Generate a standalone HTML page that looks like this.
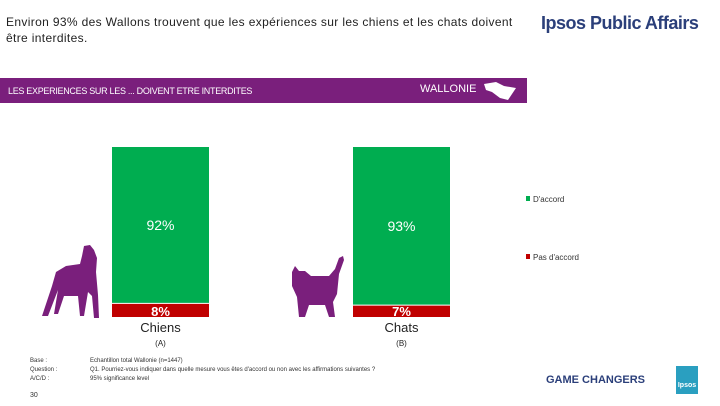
<!DOCTYPE html>
<html><head><meta charset="utf-8"><style>
body{margin:0;width:720px;height:405px;background:#fff;font-family:"Liberation Sans",sans-serif;position:relative;overflow:hidden}
.a{position:absolute}
</style></head><body>
<div class="a" style="left:6px;top:14px;width:530px;font-size:12px;line-height:16px;color:#222;letter-spacing:0.35px;white-space:nowrap">Environ 93% des Wallons trouvent que les expériences sur les chiens et les chats doivent <br>être interdites.</div>
<div class="a" style="left:541px;top:13px;font-size:18px;font-weight:bold;color:#2b3f7a;letter-spacing:-0.5px">Ipsos Public Affairs</div>
<div class="a" style="left:0;top:78px;width:527px;height:25px;background:#7a1f7c">
 <div class="a" style="left:8px;top:8px;font-size:9px;color:#fff;letter-spacing:-0.3px">LES EXPERIENCES SUR LES ... DOIVENT ETRE INTERDITES</div>
 <div class="a" style="left:420px;top:5px;font-size:11px;color:#fff">WALLONIE</div>
 <svg class="a" style="left:482px;top:2px" width="36" height="22"><path d="M2 4 L14 2 L22 6 L34 8 L30 14 L26 20 L18 18 L10 12 L4 10Z" fill="#fff"/></svg>
</div>
<svg class="a" id="chart" style="left:0;top:0" width="720" height="405"></svg>
<div class="a" style="left:30px;top:357px;font-size:6px;line-height:9px;color:#333">Base :<br>Question :<br>A/C/D :</div>
<div class="a" style="left:90px;top:357px;font-size:6px;line-height:9px;color:#333">Echantillon total Wallonie (n=1447)<br>Q1. Pourriez-vous indiquer dans quelle mesure vous êtes d'accord ou non avec les affirmations suivantes ?<br>95% significance level</div>
<div class="a" style="left:30px;top:392px;font-size:7px;color:#333">30</div>
<div class="a" style="left:546px;top:374px;font-size:11px;font-weight:bold;color:#2b3f7a">GAME CHANGERS</div>
<div class="a" style="left:676px;top:366px;width:22px;height:28px;background:#2a9fc0;color:#fff;font-size:7px;font-weight:bold;text-align:center;line-height:40px">Ipsos</div>
<script>
const categories=["Chiens","Chats"];
const subLabels=["(A)","(B)"];
const agree=[92,93];
const disagree=[8,7];
const ns="http://www.w3.org/2000/svg";
const svg=document.getElementById('chart');
const top0=147,bot=317,barW=97;
const x0=[112,353];
function y(v){return bot-(bot-top0)*v/100;}
function mk(t,a){const e=document.createElementNS(ns,t);for(const k in a)e.setAttribute(k,a[k]);svg.appendChild(e);return e;}
categories.forEach((c,i)=>{
 const tot=agree[i]+disagree[i];
 const yd=y(disagree[i]/tot*100);
 let r=mk('rect',{x:x0[i],y:y(100),width:barW,height:yd-y(100),fill:'#00ad50'});
 
 
 r=mk('rect',{x:x0[i],y:yd,width:barW,height:bot-yd,fill:'#c00000'});
 
 
 mk('line',{x1:x0[i],x2:x0[i]+barW,y1:yd,y2:yd,stroke:'#fff','stroke-width':1});
 let t=mk('text',{x:x0[i]+barW/2,y:(y(100)+yd)/2+5,'text-anchor':'middle',fill:'#fff','font-size':14,'font-family':'Liberation Sans'});
 t.textContent=agree[i]+'%';
 
 
 t=mk('text',{x:x0[i]+barW/2,y:bot-1,'text-anchor':'middle',fill:'#fff','font-size':13,'font-weight':'bold','font-family':'Liberation Sans'});
 t.textContent=disagree[i]+'%';
 
 
 t=mk('text',{x:x0[i]+barW/2,y:bot+15,'text-anchor':'middle',fill:'#222','font-size':13,'font-family':'Liberation Sans'});
 t.textContent=c;
 
 
 t=mk('text',{x:x0[i]+barW/2,y:bot+29,'text-anchor':'middle',fill:'#222','font-size':8,'font-family':'Liberation Sans'});
 t.textContent=subLabels[i];
 
 
});
let d=mk('path',{d:'M84 246 L90 245 L94 250 L97 258 L96 272 L98 295 L99 318 L94 318 L92 296 L88 292 L84 316 L80 316 L78 296 L64 296 L58 314 L54 314 L58 290 L48 316 L42 316 L52 286 L56 272 L66 266 L80 264 L82 256 Z',fill:'#7a1f7c'});

let ct=mk('path',{d:'M292 272 L295 266 L299 271 L305 271 L311 276 L329 276 L335 269 L339 258 L343 256 L344 260 L339 274 L337 294 L333 302 L335 317 L329 317 L325 305 L309 305 L305 317 L299 317 L297 297 L292 286 Z',fill:'#7a1f7c'});

const legend=[["D'accord",'#00ad50',200],["Pas d'accord",'#c00000',258]];
legend.forEach(l=>{
 const g=mk('g',{});
 
 
 const r=document.createElementNS(ns,'rect');r.setAttribute('x',526);r.setAttribute('y',l[2]-4);r.setAttribute('width',4);r.setAttribute('height',5);r.setAttribute('fill',l[1]);g.appendChild(r);
 const t=document.createElementNS(ns,'text');t.setAttribute('x',533);t.setAttribute('y',l[2]+2);t.setAttribute('font-size',8);t.setAttribute('fill','#333');t.setAttribute('font-family','Liberation Sans');t.textContent=l[0];g.appendChild(t);
});
</script>
</body></html>
